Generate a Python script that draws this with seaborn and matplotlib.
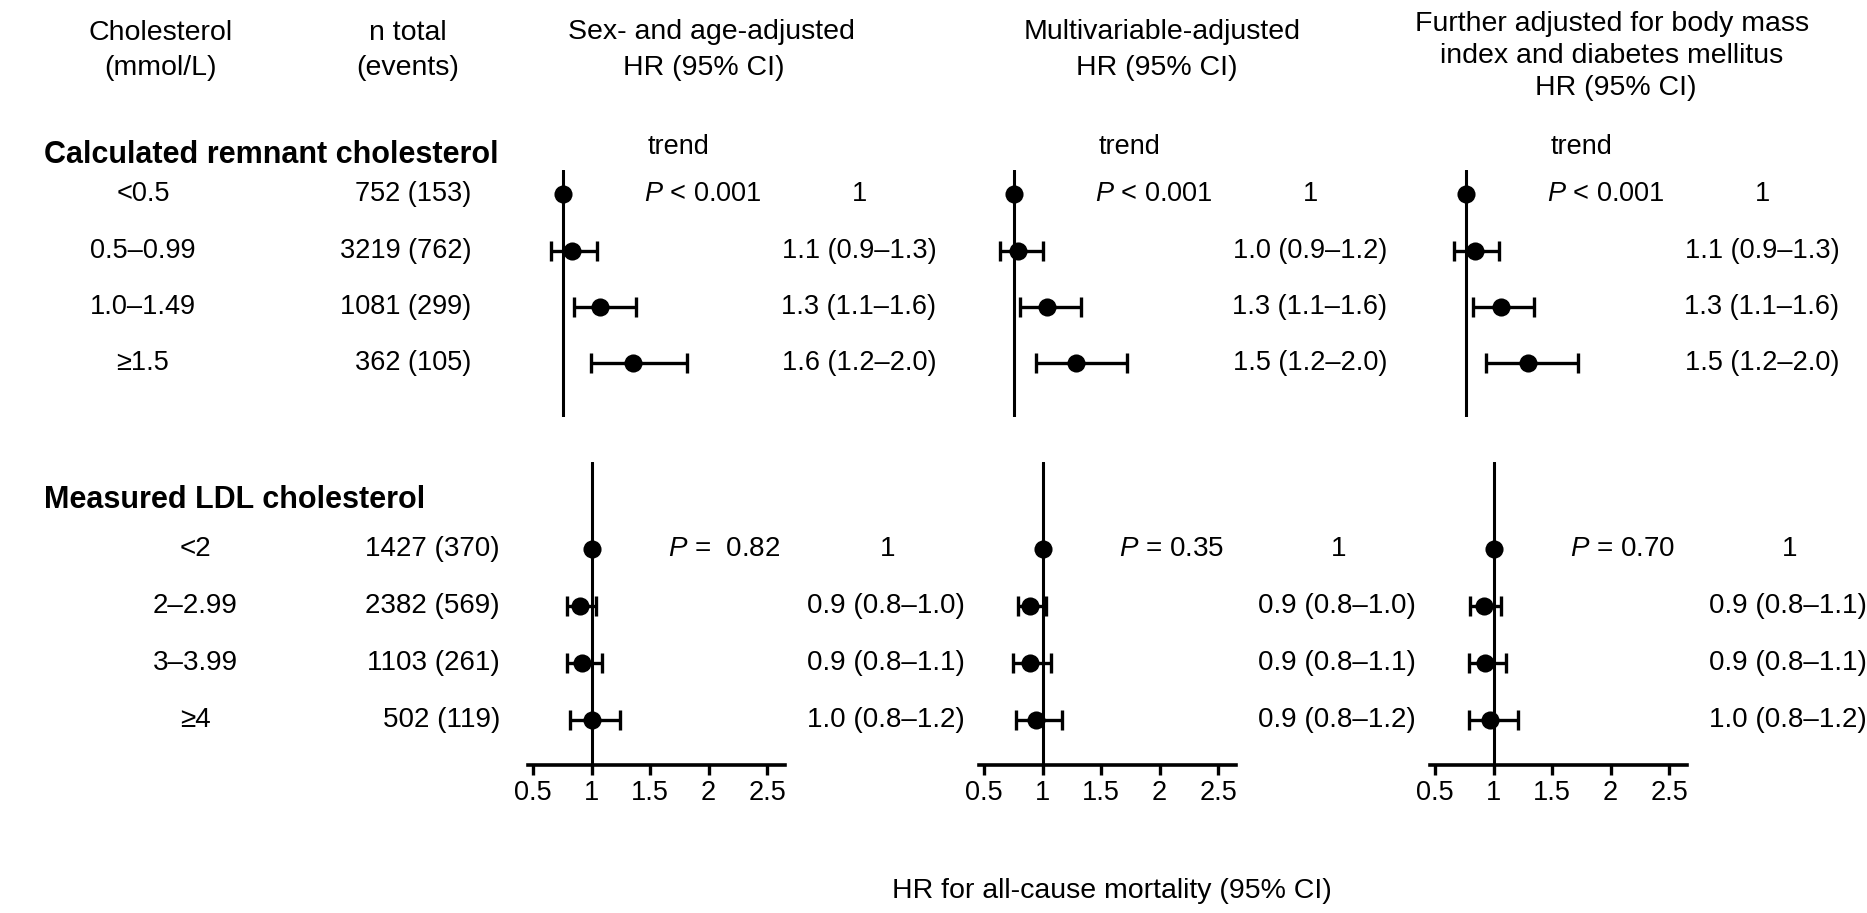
import numpy as np
import pandas as pd
import matplotlib
matplotlib.use("Agg")
import matplotlib.pyplot as plt
import matplotlib.transforms as mtrans
import seaborn as sns

# ---------------- data ----------------
rem_labels = ["<0.5", "0.5–0.99", "1.0–1.49", "≥1.5"]
rem_n = ["752 (153)", "3219 (762)", "1081 (299)", "362 (105)"]
ldl_labels = ["<2", "2–2.99", "3–3.99", "≥4"]
ldl_n = ["1427 (370)", "2382 (569)", "1103 (261)", "502 (119)"]

model_titles = [
    ["Sex- and age-adjusted", "HR (95% CI)"],
    ["Multivariable-adjusted", "HR (95% CI)"],
    ["Further adjusted for body mass", "index and diabetes mellitus", "HR (95% CI)"],
]

rem_hr = [[1.0, 1.08, 1.32, 1.60], [1.0, 1.03, 1.28, 1.53], [1.0, 1.08, 1.30, 1.53]]
rem_lo = [[np.nan, 0.90, 1.09, 1.24], [np.nan, 0.88, 1.05, 1.19], [np.nan, 0.90, 1.06, 1.17]]
rem_hi = [[np.nan, 1.29, 1.62, 2.06], [np.nan, 1.25, 1.57, 1.97], [np.nan, 1.28, 1.58, 1.96]]

ldl_hr = [[1.0, 0.90, 0.92, 1.00], [1.0, 0.89, 0.89, 0.94], [1.0, 0.92, 0.93, 0.97]]
ldl_lo = [[np.nan, 0.79, 0.79, 0.82], [np.nan, 0.79, 0.75, 0.77], [np.nan, 0.80, 0.79, 0.79]]
ldl_hi = [[np.nan, 1.04, 1.09, 1.24], [np.nan, 1.03, 1.07, 1.17], [np.nan, 1.06, 1.11, 1.21]]

rem_text = [["1", "1.1 (0.9–1.3)", "1.3 (1.1–1.6)", "1.6 (1.2–2.0)"],
            ["1", "1.0 (0.9–1.2)", "1.3 (1.1–1.6)", "1.5 (1.2–2.0)"],
            ["1", "1.1 (0.9–1.3)", "1.3 (1.1–1.6)", "1.5 (1.2–2.0)"]]
ldl_text = [["1", "0.9 (0.8–1.0)", "0.9 (0.8–1.1)", "1.0 (0.8–1.2)"],
            ["1", "0.9 (0.8–1.0)", "0.9 (0.8–1.1)", "0.9 (0.8–1.2)"],
            ["1", "0.9 (0.8–1.1)", "0.9 (0.8–1.1)", "1.0 (0.8–1.2)"]]
rem_p = ["< 0.001", "< 0.001", "< 0.001"]
ldl_p = ["=  0.82", "= 0.35", "= 0.70"]

xticks = [0.5, 1, 1.5, 2, 2.5]
xticklabels = ["0.5", "1", "1.5", "2", "2.5"]

# ---------------- style ----------------
sns.set_theme(style="white")
plt.rcParams["font.family"] = ["Liberation Sans", "DejaVu Sans"]
plt.rcParams["mathtext.fontset"] = "custom"
plt.rcParams["mathtext.rm"] = "Liberation Sans"
plt.rcParams["mathtext.it"] = "Liberation Sans:italic"
plt.rcParams["text.color"] = "black"
plt.rcParams["axes.labelcolor"] = "black"
plt.rcParams["xtick.color"] = "black"
plt.rcParams["xtick.labelcolor"] = "black"
plt.rcParams["axes.edgecolor"] = "black"

W, H = 1867, 913
fig = plt.figure(figsize=(W / 100, H / 100), dpi=100)
fig.patch.set_facecolor("white")

def fx(px):
    return px / W

def fy(py):
    return 1 - py / H

FS = 20
XL0 = 0.457
PXU = 117.0
AXW = 257

def make_axes(left, top, bottom, ylim):
    ax = fig.add_axes([fx(left), fy(bottom), AXW / W, (bottom - top) / H])
    ax.set_xlim(XL0, XL0 + AXW / PXU)
    ax.set_ylim(*ylim)
    ax.set_facecolor("none")
    for s in ax.spines.values():
        s.set_visible(False)
    ax.set_yticks([])
    return ax

def draw_forest(ax, hr, lo, hi):
    df = pd.DataFrame({"hr": hr, "lo": lo, "hi": hi, "row": np.arange(len(hr))})
    ax.axvline(1, color="black", lw=2.2, zorder=1)
    ci = df.dropna()
    ax.errorbar(ci["hr"], ci["row"],
                xerr=[ci["hr"] - ci["lo"], ci["hi"] - ci["hr"]],
                fmt="none", ecolor="black", elinewidth=2.4, capsize=7, capthick=2.4, zorder=2)
    sns.scatterplot(data=df, x="hr", y="row", ax=ax, color="black", s=170,
                    edgecolor="black", linewidth=0, zorder=3, legend=False)
    ax.set_xlabel("")
    ax.set_ylabel("")

def row_texts(ax, texts, ptext, fs, trend=False, trend_y=None, p_off=145):
    tr = mtrans.blended_transform_factory(ax.transAxes, ax.transData)
    for i, t in enumerate(texts):
        if i == 0:
            ax.text(360 / AXW, i, t, transform=tr, ha="center", va="center", fontsize=fs)
        else:
            ax.text(437 / AXW, i, t, transform=tr, ha="right", va="center", fontsize=fs)
    ax.text(p_off / AXW, 0, r"$\mathit{P}$ " + ptext, transform=tr, ha="left", va="center", fontsize=fs)
    if trend:
        ax.text((p_off + 3) / AXW, trend_y, "trend", transform=tr, ha="left", va="center", fontsize=fs)

col_left = [528, 979, 1430]
top_line = [563, 1014, 1466]

for k in range(3):
    # top section (remnant cholesterol)
    tl = top_line[k] - (1 - XL0) * PXU
    axt = make_axes(tl, 170, 417, (3.947, -0.425))
    axt.set_xticks([])
    draw_forest(axt, rem_hr[k], rem_lo[k], rem_hi[k])
    row_texts(axt, rem_text[k], rem_p[k], 19.5, trend=True, trend_y=(147 - 194) / 56.5, p_off=145)

    # bottom section (LDL cholesterol)
    axb = make_axes(col_left[k], 462, 765, (3.789, -1.526))
    draw_forest(axb, ldl_hr[k], ldl_lo[k], ldl_hi[k])
    axb.spines["bottom"].set_visible(True)
    axb.spines["bottom"].set_linewidth(2.6)
    axb.spines["bottom"].set_color("black")
    axb.set_xticks(xticks)
    axb.set_xticklabels(xticklabels)
    axb.tick_params(axis="x", direction="out", length=7, width=2.4, color="black",
                    labelcolor="black", labelsize=19.5, pad=4, bottom=True)
    row_texts(axb, ldl_text[k], ldl_p[k], FS, p_off=140)

# ---------------- headers ----------------
hfs = 20.5
fig.text(fx(161), fy(33), "Cholesterol", ha="center", va="center", fontsize=hfs)
fig.text(fx(161), fy(68), "(mmol/L)", ha="center", va="center", fontsize=hfs)
fig.text(fx(408), fy(33), "n total", ha="center", va="center", fontsize=hfs)
fig.text(fx(408), fy(68), "(events)", ha="center", va="center", fontsize=hfs)

fig.text(fx(711), fy(32), model_titles[0][0], ha="center", va="center", fontsize=hfs)
fig.text(fx(704), fy(68), model_titles[0][1], ha="center", va="center", fontsize=hfs)
fig.text(fx(1162), fy(32), model_titles[1][0], ha="center", va="center", fontsize=hfs)
fig.text(fx(1157), fy(68), model_titles[1][1], ha="center", va="center", fontsize=hfs)
fig.text(fx(1612), fy(24), model_titles[2][0], ha="center", va="center", fontsize=hfs)
fig.text(fx(1612), fy(56), model_titles[2][1], ha="center", va="center", fontsize=hfs)
fig.text(fx(1616), fy(88), model_titles[2][2], ha="center", va="center", fontsize=hfs)

# ---------------- section titles & row labels ----------------
fig.text(fx(44), fy(155), "Calculated remnant cholesterol", ha="left", va="center",
         fontsize=22, fontweight="bold")
fig.text(fx(44), fy(500), "Measured LDL cholesterol", ha="left", va="center",
         fontsize=22, fontweight="bold")

top_rows_y = [194, 250.5, 307, 363.5]
bot_rows_y = [549, 606, 663, 720]
for i in range(4):
    fig.text(fx(143), fy(top_rows_y[i]), rem_labels[i], ha="center", va="center", fontsize=19.5)
    fig.text(fx(471), fy(top_rows_y[i]), rem_n[i], ha="right", va="center", fontsize=19.5)
    fig.text(fx(195), fy(bot_rows_y[i]), ldl_labels[i], ha="center", va="center", fontsize=FS)
    fig.text(fx(500), fy(bot_rows_y[i]), ldl_n[i], ha="right", va="center", fontsize=FS)

fig.text(fx(1112), fy(891), "HR for all-cause mortality (95% CI)", ha="center", va="center", fontsize=hfs)

fig.savefig("out.png", dpi=100, facecolor="white")
